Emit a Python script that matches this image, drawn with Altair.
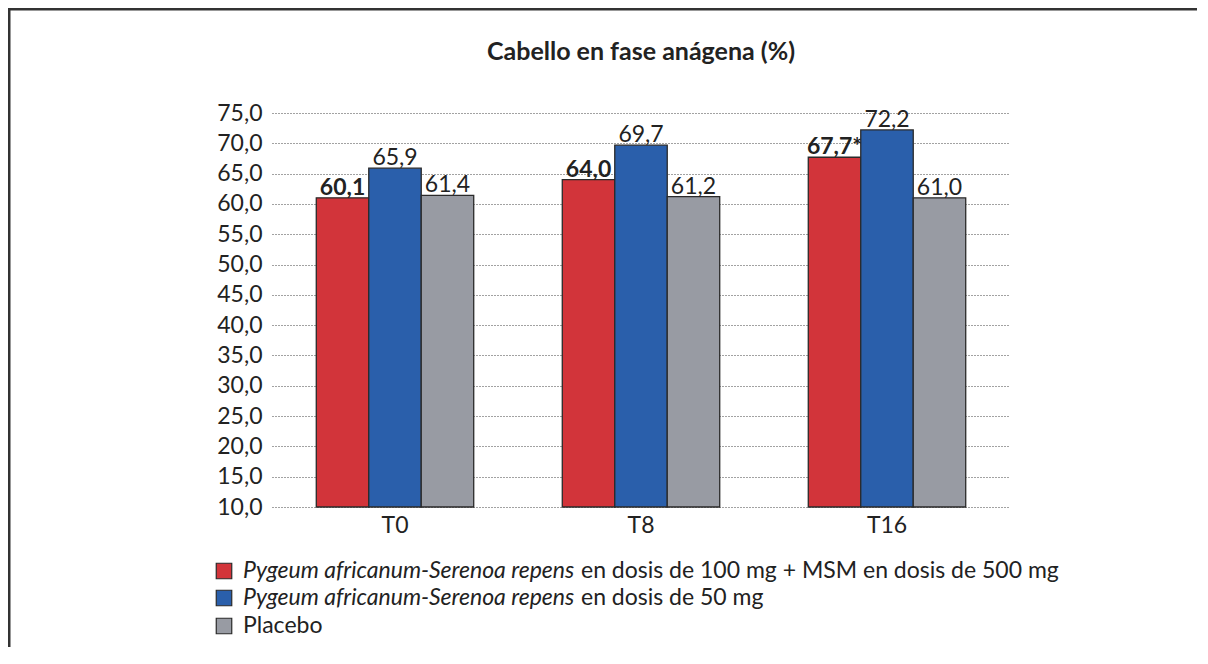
import altair as alt
import pandas as pd

# ---------------- data ----------------
categories = ["T0", "T8", "T16"]
series_keys = ["dosis100", "dosis50", "placebo"]
series_colors = ["#D2343A", "#2A5FAB", "#989BA3"]

red_values = [61.0, 64.0, 67.7]
blue_values = [65.9, 69.7, 72.2]
gray_values = [61.4, 61.2, 61.0]

red_labels = ["60,1", "64,0", "67,7*"]
blue_labels = ["65,9", "69,7", "72,2"]
gray_labels = ["61,4", "61,2", "61,0"]

y_ticks = [10, 15, 20, 25, 30, 35, 40, 45, 50, 55, 60, 65, 70, 75]

title_text = "Cabello en fase anágena (%)"
legend_italic = ["Pygeum africanum-Serenoa repens", "Pygeum africanum-Serenoa repens", ""]
legend_regular = ["en dosis de 100 mg + MSM en dosis de 500 mg", "en dosis de 50 mg", "Placebo"]

FONT = "Lato"

rows = []
for s, vals, labs in zip(series_keys, [red_values, blue_values, gray_values],
                         [red_labels, blue_labels, gray_labels]):
    for c, v, l in zip(categories, vals, labs):
        rows.append({"time": c, "series": s, "value": v, "label": l})
df = pd.DataFrame(rows)

# ---------------- layout (plot area pixels) ----------------
W, H = 738, 394

x_axis = alt.Axis(title=None, domain=False, ticks=False, labelAngle=0,
                  labelFont=FONT, labelFontSize=23, labelColor="#222",
                  labelPadding=7)
y_axis = alt.Axis(title=None, values=y_ticks, domain=False, ticks=False,
                  labelOverlap=False,
                  labelExpr="replace(format(datum.value, '.1f'), '.', ',')",
                  labelFont=FONT, labelFontSize=23, labelColor="#222",
                  labelPadding=10, grid=True, gridDash=[1, 2],
                  gridColor="#444", gridWidth=1)
x_scale = alt.Scale(paddingInner=0.36, paddingOuter=0.18)
xo_scale = alt.Scale(paddingInner=0, paddingOuter=0)
y_scale = alt.Scale(domain=[10, 75], nice=False, zero=False)


def enc_x():
    return alt.X("time:N", sort=categories, scale=x_scale, axis=x_axis)


def enc_xo():
    return alt.XOffset("series:N", sort=series_keys, scale=xo_scale)


def enc_y():
    return alt.Y("value:Q", scale=y_scale, axis=y_axis)


bars = alt.Chart(df).mark_bar(stroke="#2a2a2a", strokeWidth=1.3).encode(
    x=enc_x(), xOffset=enc_xo(), y=enc_y(), y2=alt.datum(10),
    color=alt.Color("series:N", scale=alt.Scale(domain=series_keys, range=series_colors),
                    legend=None),
)

labels_bold = alt.Chart(df).transform_filter(
    alt.datum.series == "dosis100"
).mark_text(font=FONT, fontSize=23, fontWeight="bold", color="#222",
            baseline="alphabetic", dy=-3).encode(
    x=enc_x(), xOffset=enc_xo(), y=enc_y(), text="label:N")

labels_reg = alt.Chart(df).transform_filter(
    alt.datum.series != "dosis100"
).mark_text(font=FONT, fontSize=23, color="#222",
            baseline="alphabetic", dy=-3).encode(
    x=enc_x(), xOffset=enc_xo(), y=enc_y(), text="label:N")

one = pd.DataFrame({"k": [0]})

title = alt.Chart(one).mark_text(font=FONT, fontSize=25, fontWeight="bold",
                                 color="#222", align="center", baseline="middle").encode(
    x=alt.value(W / 2), y=alt.value(-61), text=alt.value(title_text))

# frame lines (decoration), drawn as thin filled rectangles kept inside the view
frame_top = alt.Chart(one).mark_rect(color="#333", strokeWidth=0).encode(
    x=alt.value(-264), x2=alt.value(925), y=alt.value(-105), y2=alt.value(-102.5))
frame_left = alt.Chart(one).mark_rect(color="#333", strokeWidth=0).encode(
    x=alt.value(-264), x2=alt.value(-261.5), y=alt.value(-105), y2=alt.value(534))

# custom legend (italic + regular parts)
legend_layers = []
row_y = [458, 485, 513]
for i in range(3):
    ld = pd.DataFrame({"k": [i]})
    legend_layers.append(
        alt.Chart(ld).mark_square(size=240, stroke="#2a2a2a", strokeWidth=1.2, opacity=1,
                                  color=series_colors[i]).encode(
            x=alt.value(-48), y=alt.value(row_y[i])))
    if legend_italic[i]:
        legend_layers.append(
            alt.Chart(ld).mark_text(font=FONT, fontSize=23, fontStyle="italic", color="#222",
                                    align="left", baseline="middle").encode(
                x=alt.value(-29), y=alt.value(row_y[i]), text=alt.value(legend_italic[i])))
        reg_x = 309
    else:
        reg_x = -29
    legend_layers.append(
        alt.Chart(ld).mark_text(font=FONT, fontSize=23, color="#222",
                                align="left", baseline="middle").encode(
            x=alt.value(reg_x), y=alt.value(row_y[i]), text=alt.value(legend_regular[i])))

chart = alt.layer(bars, labels_bold, labels_reg, title, frame_top, frame_left,
                  *legend_layers).properties(
    width=W, height=H,
    autosize=alt.AutoSizeParams(type="none"),
    padding={"left": 264, "top": 105, "right": 188, "bottom": 141},
    background="white",
).configure_view(stroke=None)

chart.save("out.html", embed_options={"renderer": "svg", "actions": False})
